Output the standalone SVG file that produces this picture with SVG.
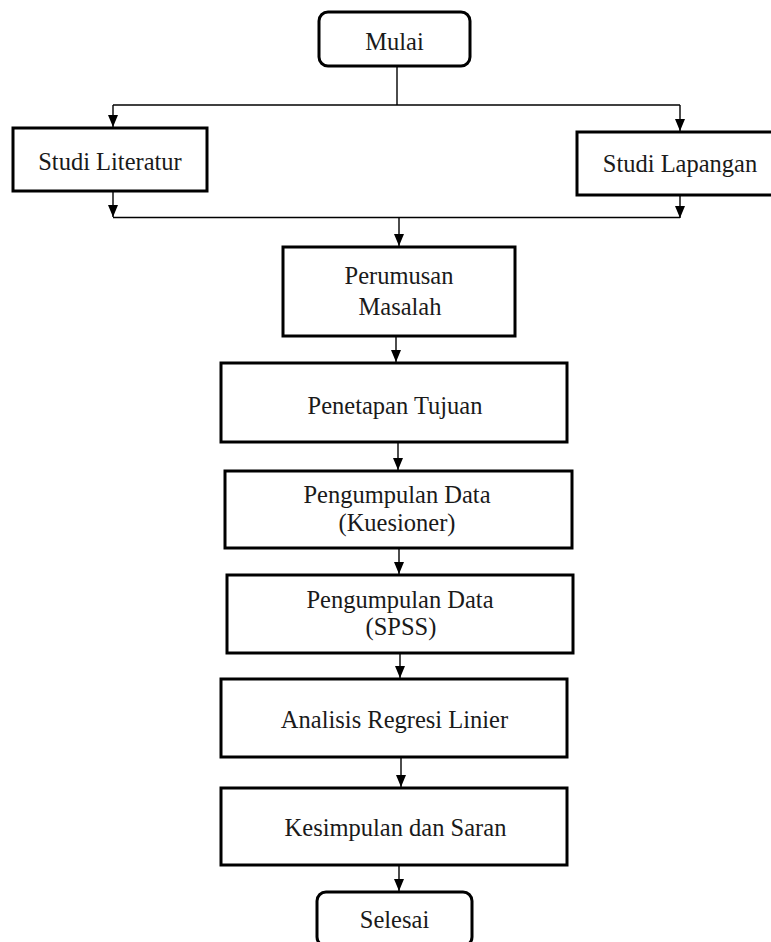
<svg xmlns="http://www.w3.org/2000/svg" width="771" height="942" viewBox="0 0 771 942">
<defs>
<style>
.box{fill:#fff;stroke:#000;stroke-width:3}
.t{font-family:'Liberation Serif','DejaVu Serif',serif;font-size:24.5px;fill:#1a1a1a;text-anchor:middle}
.c{fill:none;stroke:#000;stroke-width:1.4}
</style>
<marker id="ah" viewBox="0 0 12 10" refX="12" refY="5" markerWidth="12" markerHeight="10" markerUnits="userSpaceOnUse" orient="auto">
<path d="M0,0 L12,5 L0,10 z" fill="#000"/>
</marker>
</defs>
<rect width="771" height="942" fill="#fff"/>
<g id="connectors">
<path class="c" d="M397,66 V105"/>
<path class="c" d="M113,105 H680"/>
<path class="c" d="M113,105 V127" marker-end="url(#ah)"/>
<path class="c" d="M680,105 V131" marker-end="url(#ah)"/>
<path class="c" d="M113,191 V217" marker-end="url(#ah)"/>
<path class="c" d="M680,195 V218" marker-end="url(#ah)"/>
<path class="c" d="M113,217.5 H680"/>
<path class="c" d="M399,218 V246" marker-end="url(#ah)"/>
<path class="c" d="M396,336 V362" marker-end="url(#ah)"/>
<path class="c" d="M398,442 V470" marker-end="url(#ah)"/>
<path class="c" d="M399,548 V574" marker-end="url(#ah)"/>
<path class="c" d="M400,653 V678" marker-end="url(#ah)"/>
<path class="c" d="M401,757 V787" marker-end="url(#ah)"/>
<path class="c" d="M399,865 V891" marker-end="url(#ah)"/>
</g>
<g font-family="Liberation Serif, serif">
<g id="mulai">
<rect class="box" x="319" y="12" width="151" height="54" rx="9"/>
<text class="t" x="394.5" y="50">Mulai</text>
</g>
<g id="studi-literatur">
<rect class="box" x="13" y="128" width="194" height="63"/>
<text class="t" x="110" y="170">Studi Literatur</text>
</g>
<g id="studi-lapangan">
<rect class="box" x="577" y="132" width="196" height="63"/>
<text class="t" x="680" y="172">Studi Lapangan</text>
</g>
<g id="perumusan">
<rect class="box" x="283" y="247" width="232" height="89"/>
<text class="t" x="399" y="284">Perumusan</text>
<text class="t" x="400" y="315">Masalah</text>
</g>
<g id="penetapan">
<rect class="box" x="221" y="363" width="346" height="79"/>
<text class="t" x="395" y="414">Penetapan Tujuan</text>
</g>
<g id="kuesioner">
<rect class="box" x="225" y="471" width="347" height="77"/>
<text class="t" x="397" y="503">Pengumpulan Data</text>
<text class="t" x="397" y="531">(Kuesioner)</text>
</g>
<g id="spss">
<rect class="box" x="227" y="575" width="346" height="78"/>
<text class="t" x="400" y="608">Pengumpulan Data</text>
<text class="t" x="401" y="635">(SPSS)</text>
</g>
<g id="analisis">
<rect class="box" x="221" y="679" width="346" height="78"/>
<text class="t" x="394.5" y="728">Analisis Regresi Linier</text>
</g>
<g id="kesimpulan">
<rect class="box" x="221" y="788" width="346" height="77"/>
<text class="t" x="395.5" y="836">Kesimpulan dan Saran</text>
</g>
<g id="selesai">
<rect class="box" x="317" y="892" width="155" height="54" rx="9"/>
<text class="t" x="394.5" y="928">Selesai</text>
</g>
</g>
</svg>
